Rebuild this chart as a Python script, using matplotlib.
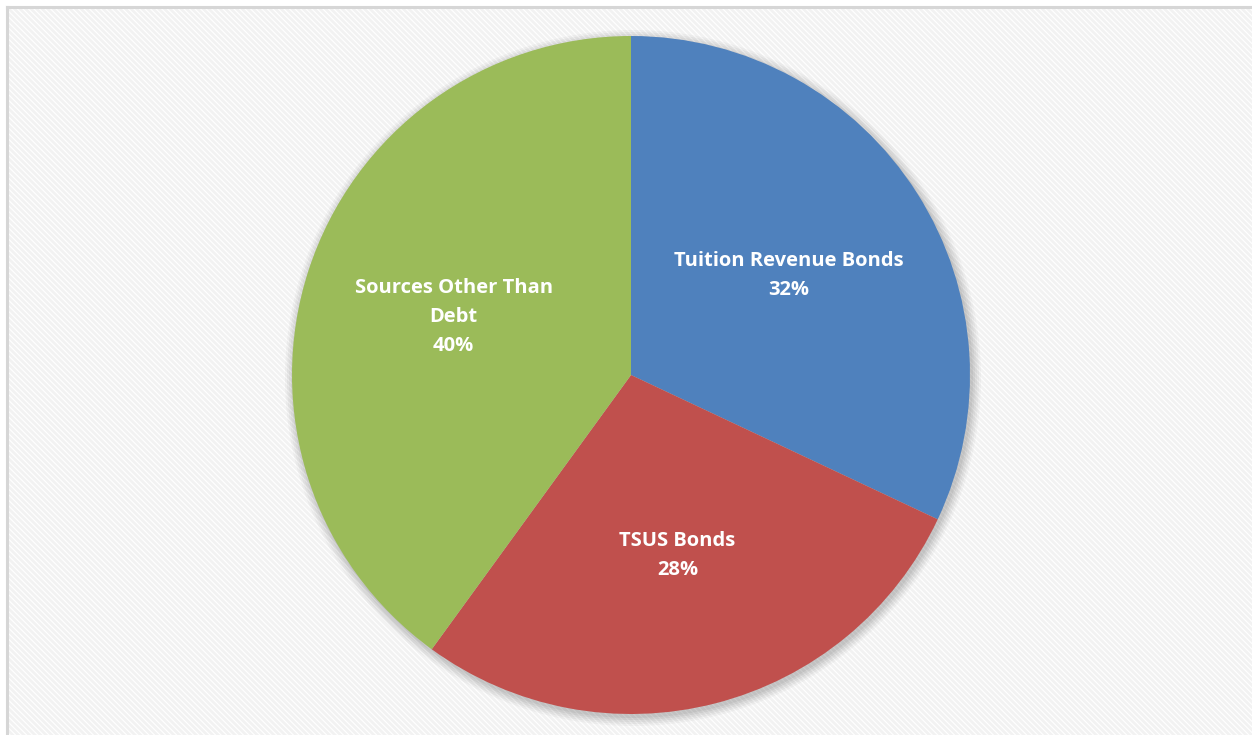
import matplotlib
matplotlib.use("Agg")
import matplotlib.pyplot as plt
from matplotlib.patches import Rectangle, Circle

categories = ["Tuition Revenue Bonds", "TSUS Bonds", "Sources Other Than\nDebt"]
shares = [32, 28, 40]
colors = ["#4F81BD", "#C0504D", "#9BBB59"]

W, H = 1252, 735
fig = plt.figure(figsize=(W / 100, H / 100), dpi=100)
fig.patch.set_facecolor("white")
ax = fig.add_axes([0, 0, 1, 1])
ax.set_xlim(0, W)
ax.set_ylim(0, H)
ax.axis("off")

# background with faint diagonal stripes and border
plt.rcParams["hatch.color"] = "#f2f2f2"
plt.rcParams["hatch.linewidth"] = 2.0
bg = Rectangle((7, -10), W + 20, H - 7 + 10, facecolor="white",
               edgecolor="#f2f2f2", hatch="\\" * 6, linewidth=0, zorder=0)
ax.add_patch(bg)
ax.plot([7, 7], [-10, H - 7], color="#d6d6d6", lw=2.2, zorder=1)
ax.plot([7, W + 10], [H - 7, H - 7], color="#d6d6d6", lw=2.2, zorder=1)

cx, cy, r = 631, H - 375, 339

# soft shadow
for i, a in enumerate([0.03, 0.04, 0.04, 0.05, 0.05]):
    ax.add_patch(Circle((cx + 2, cy - 3), r + 9 - i * 2, facecolor="#000000",
                        alpha=a, edgecolor="none", zorder=2))

labels = [f"{c}\n{v}%" for c, v in zip(categories, shares)]
wedges, texts = ax.pie(shares, colors=colors, startangle=90, counterclock=False,
                       center=(cx, cy), radius=r, frame=True,
                       labels=labels, labeldistance=0.55,
                       wedgeprops=dict(linewidth=0, zorder=3),
                       textprops=dict(color="white", fontsize=14.5, fontweight="bold",
                                      family=["Open Sans", "DejaVu Sans"],
                                      ha="center", va="center", linespacing=1.6))
for w in wedges:
    w.set_zorder(3)
for t in texts:
    t.set_zorder(4)

ax.set_xlim(0, W)
ax.set_ylim(0, H)
ax.set_aspect("equal")
ax.axis("off")

fig.savefig("out.png", dpi=100)
